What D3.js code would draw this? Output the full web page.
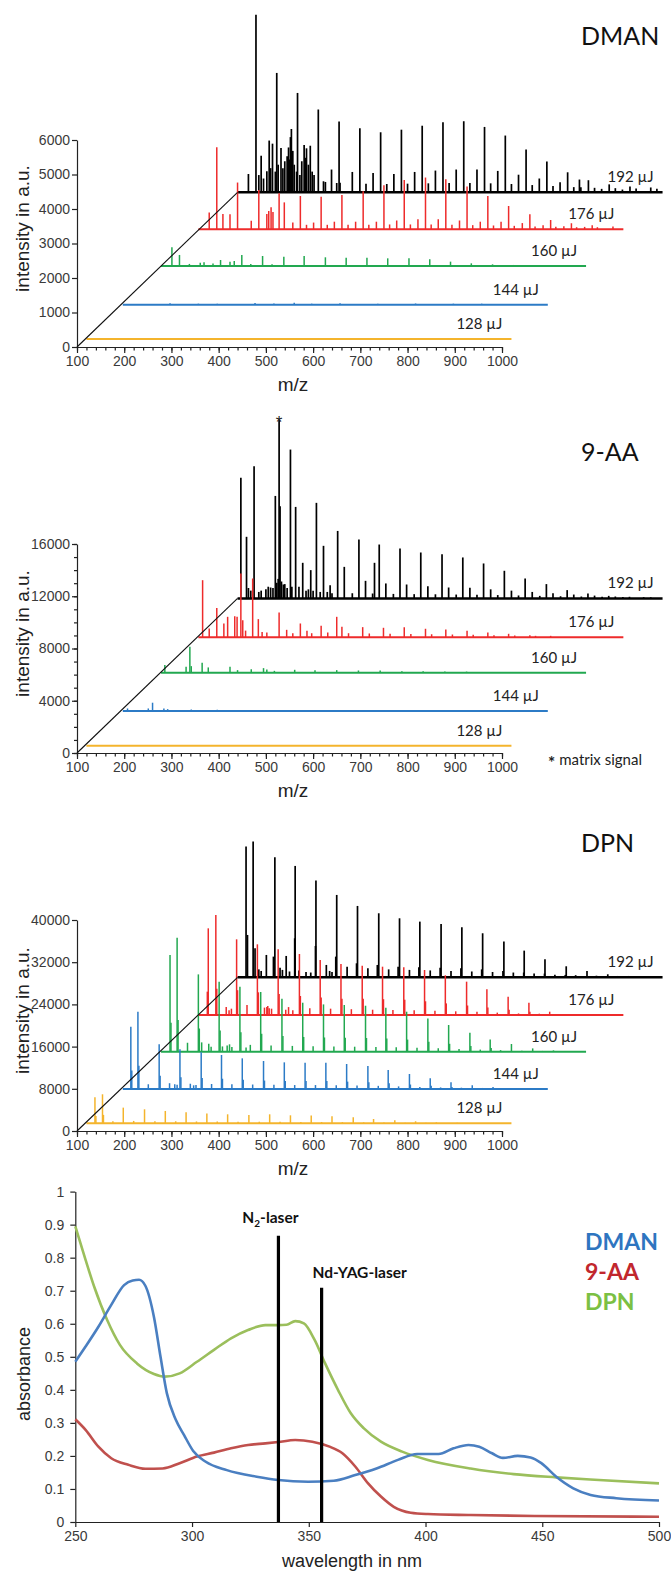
<!DOCTYPE html>
<html><head><meta charset="utf-8">
<script src="https://cdn.jsdelivr.net/npm/d3@7"></script>
<style>body{margin:0;background:#fff}svg{display:block}</style>
</head><body>
<svg id="c" width="671" height="1571"></svg>
<script>
// ================= DATA =================
const energies = ["128 µJ", "144 µJ", "160 µJ", "176 µJ", "192 µJ"];
const mzDomain = [100, 1000];
const mzTicks = [100, 200, 300, 400, 500, 600, 700, 800, 900, 1000];
// waterfall displacement of each trace along the m/z axis
const mzShift = [20, 97, 178, 257, 340];

// ---- DMAN ----
const dmanYTicks = [0, 1000, 2000, 3000, 4000, 5000, 6000];
const dmanShift = [232, 1226, 2348, 3412, 4484];
const dman128 = [];
const dman144 = [[200,40],[260,30],[300,30],[380,50],[420,35],[463,60],[500,30],[560,40],[640,30],[720,35],[800,30],[860,30]];
const dman160 = [[123,540],[139,320],[160,60],[183,97],[191,106],[210,70],[226,174],[246,126],[255,145],[271,320],[290,60],[315,290],[335,50],[360,270],[403,290],[448,252],[492,242],[536,242],[580,222],[625,222],[669,194],[713,126],[757,77],[802,48],[846,30]];
const dman176 = [[139,2380],[183,1355],[228,1140],[271,1045],[316,965],[360,945],[404,995],[449,1100],[493,1275],[536,1430],[581,1500],[624,1450],[669,1240],[713,965],[757,675],[802,435],[846,270],[890,175],[934,115],[978,80],
  [123,485],[152,445],[167,435],[212,250],[245,445],[249,530],[254,640],[258,500],[282,780],[300,195],[344,195],[388,220],[433,220],[477,220],[520,255],[565,290],[608,290],[653,255],[697,220],[741,220],[786,180],[830,120],[874,90],[918,70],
  [329,130],[373,130],[417,130],[461,130],[505,140],[549,140],[593,140],[637,130],[681,120],[725,110],[769,100],[813,80],[857,70],[901,60],[945,60]];
const dman192 = [[139,5150],[183,3460],[227,2880],[271,2400],[315,2050],[359,1855],[403,1740],[447,1815],[491,1930],[535,2030],[579,2060],[623,1895],[667,1645],[711,1240],[755,890],[799,580],[843,350],[887,230],[931,170],[975,140],
  [123,530],[299,660],[343,590],[387,560],[431,530],[475,590],[519,630],[563,660],[607,660],[651,620],[695,510],[739,400],[783,290],[827,145],[871,100],[915,80],[824,370],
  [145,500],[150,1060],[155,400],[162,610],[167,1500],[170,700],[174,1410],[180,600],[186,800],[192,1285],[196,700],[200,900],[205,1045],[208,1300],[210,950],[212,1600],[214,1835],[217,1200],[220,800],[225,600],[232,500],[236,900],[241,1370],[244,1000],[246,1275],[250,800],[254,1350],[258,600],[262,500],[282,320],[286,300],[310,270],[317,280],
  [372,250],[416,240],[460,250],[504,260],[548,270],[592,270],[636,260],[680,240],[724,210],[768,180],[812,150],[856,130],[900,120],[944,110],[988,100]];

// ---- 9-AA ----
const naaYTicks = [0, 4000, 8000, 12000, 16000];
const naaShift = [560, 3210, 6140, 8870, 11830];
const naaMatrixMz = 188;
const naa128 = [];
const naa144 = [[110,200],[154,200],[163,640],[187,200],[195,150],[245,120],[300,100],[370,80],[430,80],[470,70],[520,60],[600,60],[700,50]];
const naa160 = [[108,590],[153,460],[161,1990],[164,510],[187,765],[200,410],[246,460],[262,204],[291,280],[317,357],[324,255],[340,150],[383,230],[426,204],[472,204],[518,178],[564,178],[610,127],[655,110],[701,100],[747,90]];
const naa176 = [[109,4360],[123,660],[139,2240],[154,1045],[162,1555],[177,1600],[182,1555],[190,4870],[194,1300],[215,4490],[227,1380],[271,1890],[287,560],[316,1045],[360,870],[393,1555],[404,790],[448,765],[492,715],[536,765],[581,640],[624,590],[669,485],[713,357],[757,255],[802,153],[846,100],
  [200,500],[235,400],[245,350],[300,300],[330,480],[340,300],[374,350],[418,300],[462,280],[506,260],[550,240],[594,220],[638,200],[682,180],[726,150],[770,120],[814,100]];
const naa192 = [[107,9250],[119,4720],[135,10120],[180,7850],[188,13710],[190,7060],[212,11400],[223,7010],[238,2730],[255,2170],[267,7320],[282,4030],[312,5170],[326,2420],[357,4510],[371,1350],[390,2730],[400,4130],[414,1150],[444,3820],[458,1070],[488,3520],[503,940],[533,3390],[547,840],[577,3140],[592,815],[621,2680],[636,700],[665,2120],[680,600],[709,1530],[724,500],[754,1100],[768,400],[798,640],[812,300],[842,380],[856,220],[886,200],[900,150],[930,130],[975,90],
  [123,800],[128,600],[145,500],[150,600],[160,700],[165,900],[170,840],[175,800],[183,1200],[186,1500],[193,1300],[197,1070],[200,1100],[205,800],[215,900],[230,900],[245,600],[250,700],[260,600],[275,500],[290,500],[296,1020],[300,400],
  [343,400],[386,380],[430,350],[474,330],[519,320],[563,300],[607,280],[651,260],[695,230],[740,200],[784,170],[828,150],[872,130],[916,110],[960,100]];

// ---- DPN ----
const dpnYTicks = [0, 8000, 16000, 24000, 32000, 40000];
const dpnShift = [1460, 7960, 15030, 21990, 29140];
const dpn128 = [[118,4930],[134,5500],[178,2970],[223,2655],[267,2340],[311,2085],[355,1835],[399,1705],[444,1580],[488,1705],[532,1515],[576,1455],[620,1325],[665,1140],[708,820],[753,570],[797,380],[841,190],[885,100],
  [120,1400],[136,1600],[156,400],[200,450],[245,400],[289,380],[333,350],[377,330],[421,300],[466,300],[510,280],[554,260],[598,240],[642,220],[687,180],[730,150],[775,120],[819,100]];
const dpn144 = [[117,11815],[132,14660],[177,8470],[221,7525],[266,6955],[309,6450],[353,5815],[398,5310],[442,5055],[486,4990],[530,4990],[574,4740],[619,4360],[662,3600],[707,2845],[751,2025],[795,1265],[840,700],[884,380],[928,150],
  [119,3500],[134,4400],[179,2500],[223,2250],[268,2100],[311,1950],[355,1750],[400,1600],[444,1500],[488,1500],[532,1500],[576,1400],[621,1300],[664,1100],[709,850],[753,600],[797,400],
  [154,900],[199,1100],[243,1000],[288,950],[331,900],[375,850],[420,800],[464,750],[508,750],[552,700],[596,650],[641,600],[684,500],[729,400],[773,300],[817,250],[862,200],[906,150],
  [210,900],[215,800],[250,700],[255,750]];
const dpn160 = [[119,18330],[134,21615],[179,14660],[223,13270],[267,12325],[311,11320],[356,10050],[400,9290],[444,8970],[488,8855],[533,8720],[576,8340],[620,7585],[665,6315],[709,5060],[754,3600],[797,2330],[842,1460],[887,630],[931,250],
  [121,5500],[136,6000],[181,4400],[225,4000],[269,3700],[313,3400],[358,3000],[402,2800],[446,2700],[490,2650],[535,2600],[578,2500],[622,2300],[667,1900],[711,1500],[756,1100],[799,700],
  [156,1700],[201,1500],[245,1400],[289,1300],[333,1200],[378,1100],[422,1050],[466,1000],[510,950],[555,900],[598,850],[642,750],[687,650],[731,500],[776,400],[819,300],[864,200],[908,150],[952,120],
  [186,1770],[206,950],[230,1000],[240,1200],[250,900],[280,800]];
const dpn176 = [[121,16430],[137,18960],[181,14345],[225,13400],[269,12450],[314,11565],[358,10430],[402,9670],[447,9350],[490,9160],[535,9040],[579,8530],[623,7525],[668,6320],[711,4870],[756,3475],[800,2340],[844,630],[888,190],
  [119,4425],[139,5000],[183,4700],[227,4300],[271,4000],[316,3600],[360,3300],[404,3100],[449,3100],[492,3000],[537,2900],[581,2600],[625,2200],[670,1800],[713,1400],[758,1000],[802,600],
  [159,1500],[203,1900],[247,1700],[291,1500],[336,1300],[380,1200],[424,1100],[469,1000],[512,950],[557,900],[601,800],[645,700],[690,600],[733,450],[778,300],[822,250],[866,200],[910,150],[954,150],
  [165,900],[170,1200],[240,1400],[245,1500],[250,1300],[255,1200],[285,1000],[300,900]];
const dpn192 = [[118,24780],[133,25725],[179,22750],[222,21110],[266,18330],[310,15610],[354,13525],[399,12135],[443,11185],[486,10555],[531,10115],[575,9480],[619,8345],[664,6765],[707,5055],[751,3410],[796,2085],[840,1200],[884,570],[928,250],
  [121,8025],[137,5500],[161,4235],[176,3920],[203,4045],[221,7395],[265,5940],[308,3920],[352,2650],[396,2340],[440,2020],[484,1900],[529,1800],[573,1700],[617,1500],[662,1200],[706,900],[750,700],[794,450],
  [288,2340],[332,2020],[376,1700],[420,1500],[464,1400],[508,1300],[552,1200],[596,1100],[640,1000],[684,900],[728,700],[772,500],[816,400],[860,300],[904,250],[948,200],
  [145,1500],[150,1200],[190,1800],[195,1400],[210,1100],[230,1300],[245,1000],[255,900],[295,1200],[300,1000]];

// ---- UV/Vis absorbance ----
const wlTicks = [250, 300, 350, 400, 450, 500];
const absTicks = [0, 0.1, 0.2, 0.3, 0.4, 0.5, 0.6, 0.7, 0.8, 0.9, 1];
const absNames = ["DMAN", "9-AA", "DPN"];
const dmanAbs = [[250,0.485],[254.4,0.531],[259.9,0.591],[265.4,0.657],[270.9,0.717],[274.6,0.731],[277.3,0.733],[280,0.715],[283.7,0.62],[286.5,0.50],[289.2,0.39],[293,0.31],[296.6,0.263],[300.5,0.215],[305.7,0.183],[314.9,0.157],[327.7,0.137],[336.9,0.127],[349.7,0.122],[360.7,0.125],[369.9,0.142],[379,0.162],[388.2,0.188],[396.4,0.206],[405.6,0.206],[412,0.223],[418.4,0.233],[423,0.228],[428.5,0.208],[433.1,0.194],[439.5,0.2],[445,0.195],[449.6,0.178],[456,0.137],[463.3,0.102],[470.7,0.082],[481.7,0.072],[500,0.065]];
const naaAbs = [[250,0.311],[254.4,0.279],[259.9,0.228],[265.4,0.193],[272.7,0.173],[280,0.161],[287.4,0.162],[294.7,0.178],[302.1,0.198],[309.4,0.21],[316.7,0.223],[324,0.233],[331.4,0.238],[336.9,0.242],[344.2,0.248],[351.5,0.243],[358.9,0.228],[364.4,0.208],[369.9,0.168],[375.4,0.117],[380.9,0.077],[386.4,0.046],[393.7,0.028],[401,0.024],[419.3,0.021],[446.8,0.018],[500,0.016]];
const dpnAbs = [[250,0.895],[254.4,0.793],[258.1,0.712],[263.6,0.612],[269.1,0.536],[276.4,0.48],[283.7,0.448],[288.3,0.44],[294.7,0.45],[302.1,0.485],[309.4,0.521],[316.7,0.556],[324,0.581],[331.4,0.596],[336.9,0.596],[340.5,0.597],[344.2,0.608],[347.9,0.601],[352.5,0.551],[357,0.48],[362.5,0.4],[368,0.329],[373.5,0.284],[380.9,0.243],[390,0.213],[401,0.188],[419.3,0.162],[437.7,0.145],[456,0.135],[474.3,0.127],[500,0.117]];
const laserWavelengths = [337, 355.5];
const laserHeights = [0.866, 0.709];

// ================= DRAWING =================
const svg = d3.select("#c");
const AX = "Liberation Sans, Arial, sans-serif";
const CAL = "Lato, Carlito, sans-serif";
const traceColors = ["#F4B42C", "#2C7BC6", "#22A850", "#EE2B2B", "#000000"];
const x = d3.scaleLinear().domain(mzDomain).range([77, 502]);

const panels = [
  {title: "DMAN", ticks: dmanYTicks, shift: dmanShift, traces: [dman128, dman144, dman160, dman176, dman192], y0: 347, y1: 140, minor: null, titleY: 45},
  {title: "9-AA", ticks: naaYTicks, shift: naaShift, traces: [naa128, naa144, naa160, naa176, naa192], y0: 753, y1: 544, minor: d3.range(0, 16001, 1000), titleY: 461},
  {title: "DPN", ticks: dpnYTicks, shift: dpnShift, traces: [dpn128, dpn144, dpn160, dpn176, dpn192], y0: 1131, y1: 920, minor: null, titleY: 852}
];

panels.forEach((p, pi) => {
  const g = svg.append("g");
  const yMax = p.ticks[p.ticks.length - 1];
  const y = d3.scaleLinear().domain([0, yMax]).range([p.y0, p.y1]);

  // axes
  g.append("g").attr("transform", `translate(0,${p.y0})`)
    .call(d3.axisBottom(x).tickValues(mzTicks).tickSize(6).tickPadding(3).tickSizeOuter(0).tickFormat(d3.format("d")));
  g.append("g").attr("transform", `translate(0,${p.y0})`)
    .call(d3.axisBottom(x).tickValues(d3.range(100, 1001, 20)).tickSize(3.5).tickSizeOuter(0).tickFormat(""))
    .select(".domain").remove();
  g.append("g").attr("transform", `translate(77,0)`)
    .call(d3.axisLeft(y).tickValues(p.ticks).tickSize(5).tickPadding(2).tickSizeOuter(0).tickFormat(d3.format("d")));
  if (p.minor) {
    g.append("g").attr("transform", `translate(77,0)`)
      .call(d3.axisLeft(y).tickValues(p.minor).tickSize(3).tickSizeOuter(0).tickFormat(""))
      .select(".domain").remove();
  }
  g.selectAll(".tick text").attr("font-family", AX).attr("font-size", 14).attr("fill", "#3a3a3a");
  g.selectAll(".domain, .tick line").attr("stroke", "#222").attr("stroke-width", 1.2);

  // traces, back to front
  for (let k = 4; k >= 0; k--) {
    const data = p.traces[k];
    const base = y(p.shift[k]);
    const col = traceColors[k];
    const tg = g.append("g");
    tg.selectAll("line.pk").data(data).join("line").attr("class", "pk")
      .attr("x1", d => x(d[0] + mzShift[k])).attr("x2", d => x(d[0] + mzShift[k]))
      .attr("y1", base).attr("y2", d => y(d[1] + p.shift[k]))
      .attr("stroke", col).attr("stroke-width", k === 4 ? 1.7 : 1.5);
    tg.append("line")
      .attr("x1", x(mzDomain[0] + mzShift[k])).attr("x2", x(mzDomain[1] + mzShift[k]))
      .attr("y1", base).attr("y2", base)
      .attr("stroke", col).attr("stroke-width", k === 4 ? 2.4 : 2);
    g.append("text").attr("x", x(mzDomain[1] + mzShift[k]) - 9).attr("y", base - 10)
      .attr("text-anchor", "end").attr("font-family", CAL).attr("font-size", 15).attr("fill", "#222")
      .text(energies[k]);
  }

  // diagonal perspective line
  g.append("line")
    .attr("x1", x(mzDomain[0])).attr("y1", y(0))
    .attr("x2", x(mzDomain[0] + mzShift[4])).attr("y2", y(p.shift[4]))
    .attr("stroke", "#111").attr("stroke-width", 1.1);

  // titles
  g.append("text").attr("x", 581).attr("y", p.titleY).attr("font-family", CAL).attr("font-size", 25)
    .attr("fill", "#111").text(p.title);
  g.append("text").attr("transform", `translate(29,${(p.y0 + p.y1) / 2 - 15}) rotate(-90)`)
    .attr("text-anchor", "middle").attr("font-family", AX).attr("font-size", 19).attr("fill", "#222")
    .text("intensity in a.u.");
  g.append("text").attr("x", 293).attr("y", p.y0 + 44).attr("text-anchor", "middle")
    .attr("font-family", AX).attr("font-size", 19).attr("fill", "#222").text("m/z");

  if (pi === 1) {
    const pk = naa192.find(d => d[0] === naaMatrixMz);
    g.append("text").attr("x", x(pk[0] + mzShift[4])).attr("y", y(pk[1] + p.shift[4]) + 9)
      .attr("text-anchor", "middle").attr("font-family", AX).attr("font-size", 17).attr("fill", "#222").text("*");
    const t = g.append("text").attr("x", 548).attr("y", p.y0 + 12).attr("font-family", CAL)
      .attr("font-size", 15).attr("fill", "#222");
    t.append("tspan").attr("font-weight", "bold").attr("font-size", 17).attr("dy", 4).text("*");
    t.append("tspan").attr("dx", 4).attr("dy", -4).text("matrix signal");
  }
});

// ---- absorbance panel ----
{
  const g = svg.append("g");
  const xw = d3.scaleLinear().domain([250, 500]).range([75.3, 659]);
  const ya = d3.scaleLinear().domain([0, 1]).range([1522, 1191.6]);
  g.append("g").attr("transform", "translate(0,1522)")
    .call(d3.axisBottom(xw).tickValues(wlTicks).tickSize(5).tickPadding(4).tickSizeOuter(0).tickFormat(d3.format("d")));
  g.append("g").attr("transform", "translate(75.3,0)")
    .call(d3.axisLeft(ya).tickValues(absTicks).tickSize(5).tickPadding(6).tickSizeOuter(0)
      .tickFormat(d => (d === 0 || d === 1) ? d3.format("d")(d) : d3.format(".1f")(d)));
  g.selectAll(".tick text").attr("font-family", AX).attr("font-size", 14).attr("fill", "#3a3a3a");
  g.selectAll(".domain, .tick line").attr("stroke", "#222").attr("stroke-width", 1.2);

  const line = d3.line().x(d => xw(d[0])).y(d => ya(d[1])).curve(d3.curveMonotoneX);
  const curveColors = ["#4A7FC1", "#C0504D", "#9BBF5C"];
  [dpnAbs, naaAbs, dmanAbs].forEach((data, i) => {
    const ci = [2, 1, 0][i];
    g.append("path").attr("d", line(data)).attr("fill", "none")
      .attr("stroke", curveColors[ci]).attr("stroke-width", 2.6).attr("stroke-linejoin", "round");
  });

  laserWavelengths.forEach((w, i) => {
    g.append("line").attr("x1", xw(w)).attr("x2", xw(w)).attr("y1", ya(0)).attr("y2", ya(laserHeights[i]))
      .attr("stroke", "#000").attr("stroke-width", 3.2);
  });
  const n2 = g.append("text").attr("x", xw(laserWavelengths[0]) - 8).attr("y", ya(laserHeights[0]) - 13)
    .attr("text-anchor", "middle").attr("font-family", CAL).attr("font-weight", "bold").attr("font-size", 15.5).attr("fill", "#111");
  n2.append("tspan").text("N");
  n2.append("tspan").attr("font-size", 10).attr("dy", 4).text("2");
  n2.append("tspan").attr("dy", -4).text("-laser");
  g.append("text").attr("x", xw(laserWavelengths[1]) + 38).attr("y", ya(laserHeights[1]) - 10)
    .attr("text-anchor", "middle").attr("font-family", CAL).attr("font-weight", "bold").attr("font-size", 15.5).attr("fill", "#111")
    .text("Nd-YAG-laser");

  const legendColors = ["#2E75C0", "#C1272D", "#7BC043"];
  absNames.forEach((n, i) => {
    g.append("text").attr("x", 585).attr("y", 1250 + i * 30).attr("font-family", CAL).attr("font-weight", "bold")
      .attr("font-size", 23).attr("fill", legendColors[i]).text(n);
  });

  g.append("text").attr("transform", `translate(30,1374) rotate(-90)`).attr("text-anchor", "middle")
    .attr("font-family", AX).attr("font-size", 18).attr("fill", "#222").text("absorbance");
  g.append("text").attr("x", 352).attr("y", 1567).attr("text-anchor", "middle")
    .attr("font-family", AX).attr("font-size", 18).attr("fill", "#222").text("wavelength in nm");
}
</script>
</body></html>
